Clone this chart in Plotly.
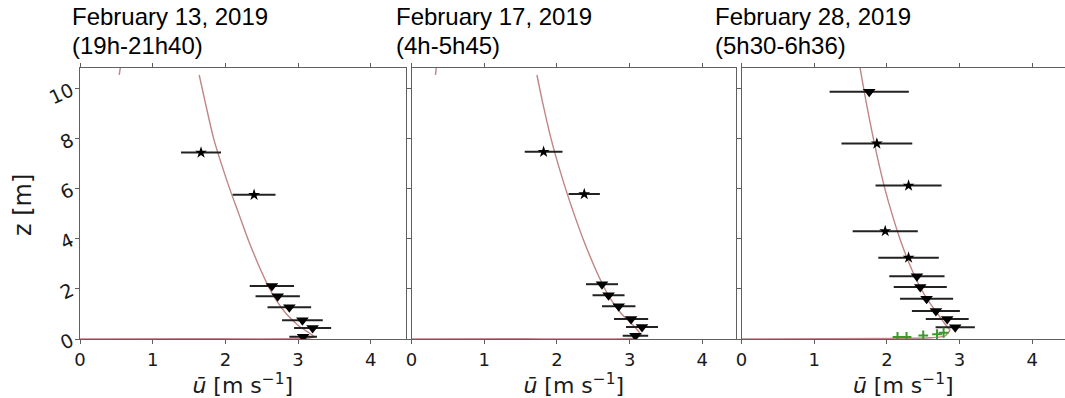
import plotly.graph_objects as go

# ---------------- data ----------------
titles_line1 = ["February 13, 2019", "February 17, 2019", "February 28, 2019"]
titles_line2 = ["(19h-21h40)", "(4h-5h45)", "(5h30-6h36)"]

x_ticks = [0, 1, 2, 3, 4]
y_ticks = [0, 2, 4, 6, 8, 10]

# Panel 1 : February 13
p1_star_u = [1.665, 2.395]
p1_star_z = [7.45, 5.76]
p1_star_err = [0.275, 0.295]
p1_tri_u = [2.64, 2.72, 2.88, 3.06, 3.20, 3.07]
p1_tri_z = [2.12, 1.71, 1.27, 0.75, 0.44, 0.09]
p1_tri_err = [0.305, 0.305, 0.30, 0.28, 0.255, 0.19]
p1_fit_u = [1.64, 1.72, 1.84, 1.945, 2.06, 2.185, 2.31, 2.45, 2.61, 2.71, 2.84, 3.02, 3.15, 3.23]
p1_fit_z = [10.55, 9.5, 8.0, 7.0, 6.0, 5.0, 4.0, 3.0, 2.0, 1.5, 1.0, 0.5, 0.25, 0.08]
p1_base_u = [3.23, 3.10, 1.50, 0.0]
p1_base_z = [0.08, 0.02, 0.01, 0.0]
p1_top_u = [0.54, 0.555]
p1_top_z = [10.55, 10.85]

# Panel 2 : February 17
p2_star_u = [1.817, 2.376]
p2_star_z = [7.48, 5.79]
p2_star_err = [0.26, 0.215]
p2_tri_u = [2.62, 2.71, 2.85, 3.02, 3.17, 3.08]
p2_tri_z = [2.19, 1.75, 1.31, 0.80, 0.48, 0.13]
p2_tri_err = [0.22, 0.22, 0.23, 0.235, 0.22, 0.175]
p2_fit_u = [1.725, 1.80, 1.92, 2.015, 2.12, 2.235, 2.36, 2.50, 2.66, 2.76, 2.89, 3.03, 3.11, 3.16]
p2_fit_z = [10.55, 9.5, 8.0, 7.0, 6.0, 5.0, 4.0, 3.0, 2.0, 1.5, 1.0, 0.6, 0.35, 0.15]
p2_base_u = [3.16, 3.05, 1.50, 0.0]
p2_base_z = [0.15, 0.03, 0.01, 0.0]
p2_top_u = [0.33, 0.34]
p2_top_z = [10.55, 10.85]

# Panel 3 : February 28
p3_star_u = [1.862, 2.298, 1.977, 2.298]
p3_star_z = [7.81, 6.13, 4.31, 3.25]
p3_star_err = [0.487, 0.454, 0.448, 0.416]
p3_tri_u = [1.757, 2.413, 2.459, 2.546, 2.674, 2.83, 2.94]
p3_tri_z = [9.88, 2.51, 2.08, 1.61, 1.12, 0.80, 0.47]
p3_tri_err = [0.545, 0.38, 0.365, 0.365, 0.33, 0.295, 0.27]
p3_green_u = [2.146, 2.27, 2.50, 2.69, 2.78]
p3_green_z = [0.08, 0.08, 0.14, 0.19, 0.25]
p3_fit_u = [1.63, 1.713, 1.815, 1.89, 1.973, 2.07, 2.18, 2.31, 2.47, 2.575, 2.70, 2.80, 2.87]
p3_fit_z = [10.85, 9.5, 8.0, 7.0, 6.0, 5.0, 4.0, 3.0, 2.0, 1.5, 1.0, 0.6, 0.35]
p3_base_u = [2.87, 2.80, 2.60, 2.10, 0.0]
p3_base_z = [0.35, 0.12, 0.05, 0.02, 0.0]

# ---------------- styling ----------------
FIT_COLOR = "#c08585"
AX_COLOR = "#606060"
TXT_COLOR = "#1a1a1a"
TICK_FONT = dict(family="DejaVu Sans", size=18, color=TXT_COLOR)

panels = [
    dict(star=(p1_star_u, p1_star_z, p1_star_err), tri=(p1_tri_u, p1_tri_z, p1_tri_err),
         fit=(p1_fit_u, p1_fit_z), base=(p1_base_u, p1_base_z), top=(p1_top_u, p1_top_z), green=None),
    dict(star=(p2_star_u, p2_star_z, p2_star_err), tri=(p2_tri_u, p2_tri_z, p2_tri_err),
         fit=(p2_fit_u, p2_fit_z), base=(p2_base_u, p2_base_z), top=(p2_top_u, p2_top_z), green=None),
    dict(star=(p3_star_u, p3_star_z, p3_star_err), tri=(p3_tri_u, p3_tri_z, p3_tri_err),
         fit=(p3_fit_u, p3_fit_z), base=(p3_base_u, p3_base_z), top=None, green=(p3_green_u, p3_green_z)),
]

fig = go.Figure()
for i, p in enumerate(panels):
    xa = "x" if i == 0 else f"x{i+1}"
    ya = "y" if i == 0 else f"y{i+1}"
    fu, fz = p["fit"]
    fig.add_trace(go.Scatter(x=fu, y=fz, mode="lines", xaxis=xa, yaxis=ya,
                             line=dict(color=FIT_COLOR, width=1.4, shape="spline", smoothing=1.0),
                             showlegend=False, hoverinfo="skip"))
    bu, bz = p["base"]
    fig.add_trace(go.Scatter(x=bu, y=bz, mode="lines", xaxis=xa, yaxis=ya,
                             line=dict(color=FIT_COLOR, width=1.4, shape="spline", smoothing=0.5),
                             showlegend=False, hoverinfo="skip"))
    if p["top"] is not None:
        tu, tz = p["top"]
        fig.add_trace(go.Scatter(x=tu, y=tz, mode="lines", xaxis=xa, yaxis=ya,
                                 line=dict(color=FIT_COLOR, width=1.4),
                                 showlegend=False, hoverinfo="skip"))
    su, sz, se = p["star"]
    fig.add_trace(go.Scatter(x=su, y=sz, mode="markers", xaxis=xa, yaxis=ya,
                             error_x=dict(type="data", array=se, visible=True, thickness=2,
                                          width=0, color="#222222"),
                             marker=dict(symbol="star", size=9, color="black"),
                             showlegend=False))
    tu, tz, te = p["tri"]
    fig.add_trace(go.Scatter(x=tu, y=tz, mode="markers", xaxis=xa, yaxis=ya,
                             error_x=dict(type="data", array=te, visible=True, thickness=2,
                                          width=0, color="#222222"),
                             marker=dict(symbol="triangle-down", size=11, color="black"),
                             showlegend=False))
    if p["green"] is not None:
        gu, gz = p["green"]
        fig.add_trace(go.Scatter(x=gu, y=gz, mode="markers", xaxis=xa, yaxis=ya,
                                 marker=dict(symbol="cross-thin", size=7, color="#3a9a2a",
                                             line=dict(color="#3a9a2a", width=2)),
                                 showlegend=False))

# plot area: x from 80 to 1065 (985 px), y from 68 to 339 (271 px)
L, T, B, W, H = 80, 68, 59, 1065, 398
PW, PH = W - L, H - T - B
def px_x(x):
    return (x - L) / PW
def px_y(y):
    return (H - B - y) / PH

domains = [[0.0, px_x(405.5)], [px_x(411.5), px_x(736.0)], [px_x(741.5), 1.0]]
xranges = [[0, 4.478], [0, 4.463], [0, 4.45]]

layout = dict(width=W, height=H, margin=dict(l=L, r=0, t=T, b=B),
              paper_bgcolor="white", plot_bgcolor="white", showlegend=False)

for i in range(3):
    xk = "xaxis" if i == 0 else f"xaxis{i+1}"
    yk = "yaxis" if i == 0 else f"yaxis{i+1}"
    ya = "y" if i == 0 else f"y{i+1}"
    xa = "x" if i == 0 else f"x{i+1}"
    layout[xk] = dict(domain=domains[i], range=xranges[i], anchor=ya,
                      tickvals=x_ticks, ticks="outside", ticklen=4, tickwidth=1.2,
                      tickcolor=AX_COLOR, showline=True, linecolor=AX_COLOR, linewidth=1.2,
                      mirror="ticks", showgrid=False, zeroline=False, tickfont=TICK_FONT,
                      title=dict(text="<i>ū</i> [m s<sup>−1</sup>]", standoff=3,
                                 font=dict(family="DejaVu Sans", size=22, color=TXT_COLOR)))
    layout[yk] = dict(domain=[0, 1], range=[0, 10.83], anchor=xa,
                      tickvals=y_ticks, ticks="outside", ticklen=4, tickwidth=1.2,
                      tickcolor=AX_COLOR, showline=True, linecolor=AX_COLOR, linewidth=1.2,
                      mirror=("ticks" if i < 2 else False), showgrid=False, zeroline=False,
                      showticklabels=(i == 0), tickangle=-25,
                      tickfont=dict(family="DejaVu Sans", size=19, color=TXT_COLOR))

fig.update_layout(**layout)

# titles: two lines, touching at y = 31.3 px
title_x = [71.0, 395.0, 714.0]
TITLE_FONT = dict(family="Liberation Sans, Arial, Helvetica", size=24, color="black")
for i in range(3):
    fig.add_annotation(x=px_x(title_x[i]), y=px_y(31.3), xref="paper", yref="paper",
                       text=titles_line1[i], showarrow=False, xanchor="left", yanchor="bottom",
                       borderpad=0, font=TITLE_FONT)
    fig.add_annotation(x=px_x(title_x[i]), y=px_y(31.3), xref="paper", yref="paper",
                       text=titles_line2[i], showarrow=False, xanchor="left", yanchor="top",
                       borderpad=0, font=TITLE_FONT)

# y-axis title
fig.add_annotation(x=px_x(23), y=px_y(205), xref="paper", yref="paper", text="z [m]",
                   textangle=-90, showarrow=False, xanchor="center", yanchor="middle",
                   font=dict(family="DejaVu Sans", size=24, color=TXT_COLOR))

fig.write_html("out.html", config={"displayModeBar": False},
               post_script="document.body.style.margin='0px';")
